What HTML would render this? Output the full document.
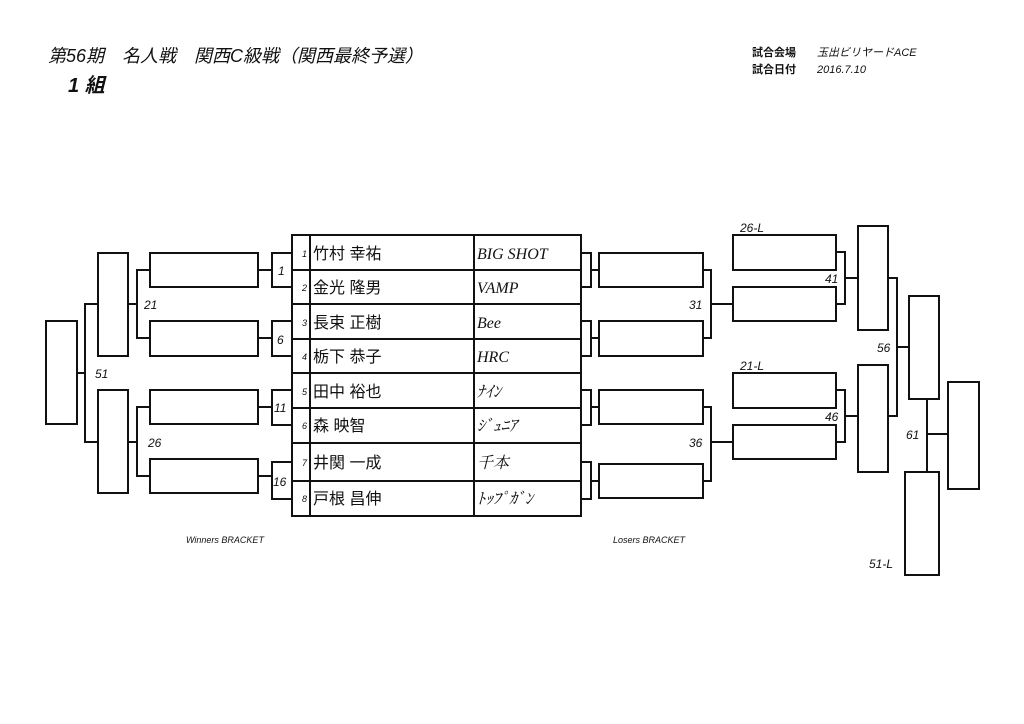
<!DOCTYPE html>
<html><head><meta charset="utf-8"><style>
html,body{margin:0;padding:0;background:#fff;}
svg{display:block;}
text{font-family:"Liberation Sans","Noto Sans CJK JP",sans-serif;fill:#111;}
.it{font-style:italic;}
.nm{font-size:16px;}
.tm{font-family:"Liberation Serif","Noto Serif CJK SC",serif;font-style:italic;font-size:16px;}
.lb{font-size:12px;font-style:italic;}
</style></head><body>
<svg width="1024" height="724" viewBox="0 0 1024 724" xmlns="http://www.w3.org/2000/svg">
<text x="48" y="62" class="it" font-size="18">第56期　名人戦　関西C級戦（関西最終予選）</text>
<text x="68" y="92" class="it" font-size="20" font-weight="bold">1 組</text>
<text x="752" y="56" font-size="11" font-weight="bold">試合会場</text>
<text x="817" y="56" font-size="11" class="it">玉出ビリヤードACE</text>
<text x="752" y="73" font-size="11" font-weight="bold">試合日付</text>
<text x="817" y="73" font-size="11" class="it">2016.7.10</text>

<g fill="none" stroke="#111" stroke-width="2">
<!-- table -->
<rect x="292" y="235" width="289" height="281"/>
<line x1="310" y1="235" x2="310" y2="516"/>
<line x1="474" y1="235" x2="474" y2="516"/>
<line x1="292" y1="270" x2="581" y2="270"/>
<line x1="292" y1="304" x2="581" y2="304"/>
<line x1="292" y1="339" x2="581" y2="339"/>
<line x1="292" y1="373" x2="581" y2="373"/>
<line x1="292" y1="408" x2="581" y2="408"/>
<line x1="292" y1="443" x2="581" y2="443"/>
<line x1="292" y1="481" x2="581" y2="481"/>
<!-- left small boxes -->
<rect x="272" y="253" width="20" height="34"/>
<rect x="272" y="321" width="20" height="35"/>
<rect x="272" y="390" width="20" height="35"/>
<rect x="272" y="462" width="20" height="37"/>
<!-- left R1 boxes -->
<rect x="150" y="253" width="108" height="34"/>
<rect x="150" y="321" width="108" height="35"/>
<rect x="150" y="390" width="108" height="34"/>
<rect x="150" y="459" width="108" height="34"/>
<line x1="258" y1="270" x2="272" y2="270"/>
<line x1="258" y1="338" x2="272" y2="338"/>
<line x1="258" y1="407" x2="272" y2="407"/>
<line x1="258" y1="476" x2="272" y2="476"/>
<!-- R2 left -->
<polyline points="150,270 137,270 137,338 150,338"/>
<line x1="128" y1="304" x2="137" y2="304"/>
<polyline points="150,407 137,407 137,476 150,476"/>
<line x1="128" y1="442" x2="137" y2="442"/>
<rect x="98" y="253" width="30" height="103"/>
<rect x="98" y="390" width="30" height="103"/>
<polyline points="98,304 85,304 85,442 98,442"/>
<line x1="77" y1="373" x2="85" y2="373"/>
<rect x="46" y="321" width="31" height="103"/>
<!-- right small boxes -->
<rect x="581" y="253" width="10" height="34"/>
<rect x="581" y="321" width="10" height="35"/>
<rect x="581" y="390" width="10" height="35"/>
<rect x="581" y="462" width="10" height="37"/>
<line x1="591" y1="270" x2="599" y2="270"/>
<line x1="591" y1="338" x2="599" y2="338"/>
<line x1="591" y1="407" x2="599" y2="407"/>
<line x1="591" y1="481" x2="599" y2="481"/>
<rect x="599" y="253" width="104" height="34"/>
<rect x="599" y="321" width="104" height="35"/>
<rect x="599" y="390" width="104" height="34"/>
<rect x="599" y="464" width="104" height="34"/>
<polyline points="703,270 711,270 711,338 703,338"/>
<line x1="711" y1="304" x2="733" y2="304"/>
<polyline points="703,407 711,407 711,481 703,481"/>
<line x1="711" y1="442" x2="733" y2="442"/>
<rect x="733" y="235" width="103" height="35"/>
<rect x="733" y="287" width="103" height="34"/>
<rect x="733" y="373" width="103" height="35"/>
<rect x="733" y="425" width="103" height="34"/>
<polyline points="836,252 845,252 845,304 836,304"/>
<line x1="845" y1="278" x2="858" y2="278"/>
<polyline points="836,390 845,390 845,442 836,442"/>
<line x1="845" y1="416" x2="858" y2="416"/>
<rect x="858" y="226" width="30" height="104"/>
<rect x="858" y="365" width="30" height="107"/>
<polyline points="888,278 897,278 897,416 888,416"/>
<line x1="897" y1="347" x2="909" y2="347"/>
<rect x="909" y="296" width="30" height="103"/>
<rect x="905" y="472" width="34" height="103"/>
<line x1="927" y1="399" x2="927" y2="472"/>
<line x1="927" y1="434" x2="948" y2="434"/>
<rect x="948" y="382" width="31" height="107"/>
</g>

<!-- table text -->
<g font-size="9" class="it">
<text x="302" y="257" class="it" font-size="9">1</text>
<text x="302" y="291" class="it" font-size="9">2</text>
<text x="302" y="326" class="it" font-size="9">3</text>
<text x="302" y="360" class="it" font-size="9">4</text>
<text x="302" y="395" class="it" font-size="9">5</text>
<text x="302" y="429" class="it" font-size="9">6</text>
<text x="302" y="466" class="it" font-size="9">7</text>
<text x="302" y="502" class="it" font-size="9">8</text>
</g>
<text x="313" y="259" class="nm">竹村 幸祐</text>
<text x="313" y="293" class="nm">金光 隆男</text>
<text x="313" y="328" class="nm">長束 正樹</text>
<text x="313" y="362" class="nm">栃下 恭子</text>
<text x="313" y="397" class="nm">田中 裕也</text>
<text x="313" y="431" class="nm">森 映智</text>
<text x="313" y="468" class="nm">井関 一成</text>
<text x="313" y="504" class="nm">戸根 昌伸</text>
<text x="477" y="259" class="tm">BIG SHOT</text>
<text x="477" y="293" class="tm">VAMP</text>
<text x="477" y="328" class="tm">Bee</text>
<text x="477" y="362" class="tm">HRC</text>
<text x="477" y="397" class="tm" font-size="13">ﾅｲﾝ</text>
<text x="477" y="431" class="tm" font-size="13">ｼﾞｭﾆｱ</text>
<text x="477" y="468" class="tm">千本</text>
<text x="477" y="504" class="tm" font-size="13">ﾄｯﾌﾟｶﾞﾝ</text>

<!-- labels -->
<text x="278" y="275" class="lb">1</text>
<text x="277" y="344" class="lb">6</text>
<text x="274" y="412" class="lb">11</text>
<text x="273" y="486" class="lb">16</text>
<text x="144" y="309" class="lb">21</text>
<text x="148" y="447" class="lb">26</text>
<text x="95" y="378" class="lb">51</text>
<text x="689" y="309" class="lb">31</text>
<text x="689" y="447" class="lb">36</text>
<text x="740" y="232" class="lb">26-L</text>
<text x="740" y="370" class="lb">21-L</text>
<text x="825" y="283" class="lb">41</text>
<text x="825" y="421" class="lb">46</text>
<text x="877" y="352" class="lb">56</text>
<text x="906" y="439" class="lb">61</text>
<text x="869" y="568" class="lb">51-L</text>
<text x="186" y="543" font-size="9" class="it">Winners BRACKET</text>
<text x="613" y="543" font-size="9" class="it">Losers BRACKET</text>
</svg>
</body></html>
